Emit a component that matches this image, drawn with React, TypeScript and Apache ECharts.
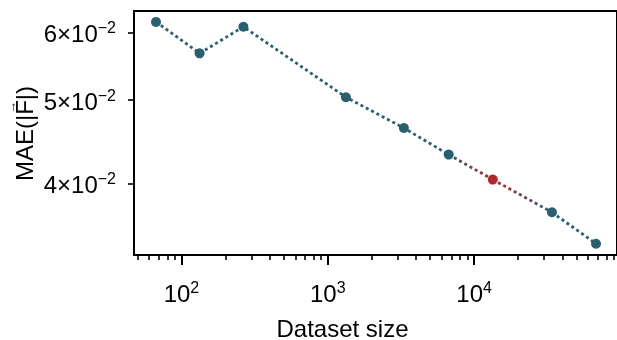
import React, { useEffect, useRef } from "react";
import * as echarts from "echarts";

const datasetSizes = [67, 133, 265, 1330, 3310, 6700, 13400, 34000, 68000];
const maeValues = [0.0617, 0.0567, 0.0609, 0.0504, 0.0464, 0.0432, 0.0404, 0.037, 0.034];
const highlightIndex = 6;
const xMajorTicks = [100, 1000, 10000];
const xMinorTicks = [
  50, 60, 70, 80, 90,
  200, 300, 400, 500, 600, 700, 800, 900,
  2000, 3000, 4000, 5000, 6000, 7000, 8000, 9000,
  20000, 30000, 40000, 50000, 60000, 70000, 80000, 90000,
];
const yTicks = [0.04, 0.05, 0.06];
const xRange = [47.4, 94600];
const yRange = [0.03299, 0.06353];
const xTitle = "Dataset size";
const yTitle = "MAE(|F|)";
const yTitleArrow = "\u2192";

const TEAL = "#2a5f70";
const RED = "#b02a2a";
const FONT = "'Liberation Sans', Arial, sans-serif";

export default function App() {
  const ref = useRef<HTMLDivElement>(null);
  useEffect(() => {
    if (!ref.current) return;
    const chart = echarts.init(ref.current, null, { renderer: "svg" });
    const pts = datasetSizes.map((x, i) => [x, maeValues[i]]);
    const lineBase = {
      type: "line",
      showSymbol: false,
      symbol: "none",
      xAxisIndex: 0,
      yAxisIndex: 0,
      z: 2,
    };
    const dash = [3, 3];
    const lw = 2.8;
    const grad = (a: string, b: string) =>
      new echarts.graphic.LinearGradient(0, 0, 1, 0, [
        { offset: 0, color: a },
        { offset: 1, color: b },
      ]);
    const series: any[] = [
      {
        ...lineBase,
        data: pts.slice(0, highlightIndex),
        lineStyle: { color: TEAL, width: lw, type: dash, cap: "butt" },
      },
      {
        ...lineBase,
        data: pts.slice(highlightIndex - 1, highlightIndex + 1),
        lineStyle: { color: grad(TEAL, RED), width: lw, type: dash, cap: "butt" },
      },
      {
        ...lineBase,
        data: pts.slice(highlightIndex, highlightIndex + 2),
        lineStyle: { color: grad(RED, TEAL), width: lw, type: dash, cap: "butt" },
      },
      {
        ...lineBase,
        data: pts.slice(highlightIndex + 1),
        lineStyle: { color: TEAL, width: lw, type: dash, cap: "butt" },
      },
      {
        type: "scatter",
        xAxisIndex: 0,
        yAxisIndex: 0,
        symbolSize: 10,
        z: 3,
        data: pts.map((p, i) => ({
          value: p,
          itemStyle: { color: i === highlightIndex ? RED : TEAL, opacity: 1 },
        })),
      },
    ];

    const rich = {
      b: { fontSize: 24, fontFamily: FONT, color: "#000", lineHeight: 26, verticalAlign: "bottom" },
      s: { fontSize: 16, fontFamily: FONT, color: "#000", lineHeight: 16, verticalAlign: "top" },
    };

    chart.setOption({
      animation: false,
      grid: {
        left: 134,
        top: 11,
        right: -10,
        bottom: 85,
        show: true,
        borderColor: "#000",
        borderWidth: 2,
        backgroundColor: "transparent",
        containLabel: false,
      },
      xAxis: [
        {
          type: "log",
          logBase: 10,
          min: xRange[0],
          max: xRange[1],
          position: "bottom",
          axisLine: { show: false },
          splitLine: { show: false },
          axisTick: {
            show: true,
            inside: false,
            length: 10,
            lineStyle: { color: "#000", width: 2 },
            customValues: xMajorTicks,
          },
          axisLabel: {
            show: true,
            margin: 24,
            customValues: xMajorTicks,
            formatter: (v: number) => `{b|10}{s|${Math.round(Math.log10(v))}}`,
            rich,
          },
        },
        {
          type: "log",
          logBase: 10,
          min: xRange[0],
          max: xRange[1],
          position: "bottom",
          axisLine: { show: false },
          splitLine: { show: false },
          axisTick: {
            show: true,
            inside: false,
            length: 5,
            lineStyle: { color: "#000", width: 1.6 },
            customValues: xMinorTicks,
          },
          axisLabel: { show: false },
        },
      ],
      yAxis: {
        type: "log",
        logBase: 10,
        min: yRange[0],
        max: yRange[1],
        position: "left",
        axisLine: { show: false },
        splitLine: { show: false },
        axisTick: {
          show: true,
          inside: false,
          length: 6,
          lineStyle: { color: "#000", width: 1.6 },
          customValues: yTicks,
        },
        axisLabel: {
          show: true,
          margin: 18,
          customValues: yTicks,
          formatter: (v: number) => `{b|${Math.round(v * 100)}×10}{s|\u22122}`,
          rich,
        },
      },
      graphic: [
        {
          type: "text",
          x: 342.5,
          y: 328,
          style: {
            text: xTitle,
            fontSize: 24,
            lineHeight: 20,
            fontFamily: FONT,
            fill: "#000",
            align: "center",
            verticalAlign: "middle",
          },
        },
        {
          type: "group",
          x: 24,
          y: 133.5,
          rotation: Math.PI / 2,
          children: [
            {
              type: "text",
              x: 0,
              y: 0,
              style: {
                text: yTitle,
                fontSize: 24,
                fontFamily: FONT,
                fill: "#000",
                align: "center",
                verticalAlign: "middle",
              },
            },
            {
              type: "text",
              x: 26,
              y: -13,
              style: {
                text: yTitleArrow,
                fontSize: 13,
                fontFamily: FONT,
                fill: "#000",
                align: "center",
                verticalAlign: "middle",
              },
            },
          ],
        },
      ],
      series,
    });
    return () => chart.dispose();
  }, []);
  return (
    <div
      ref={ref}
      style={{ position: "fixed", left: 0, top: 0, width: 617, height: 340 }}
    />
  );
}
